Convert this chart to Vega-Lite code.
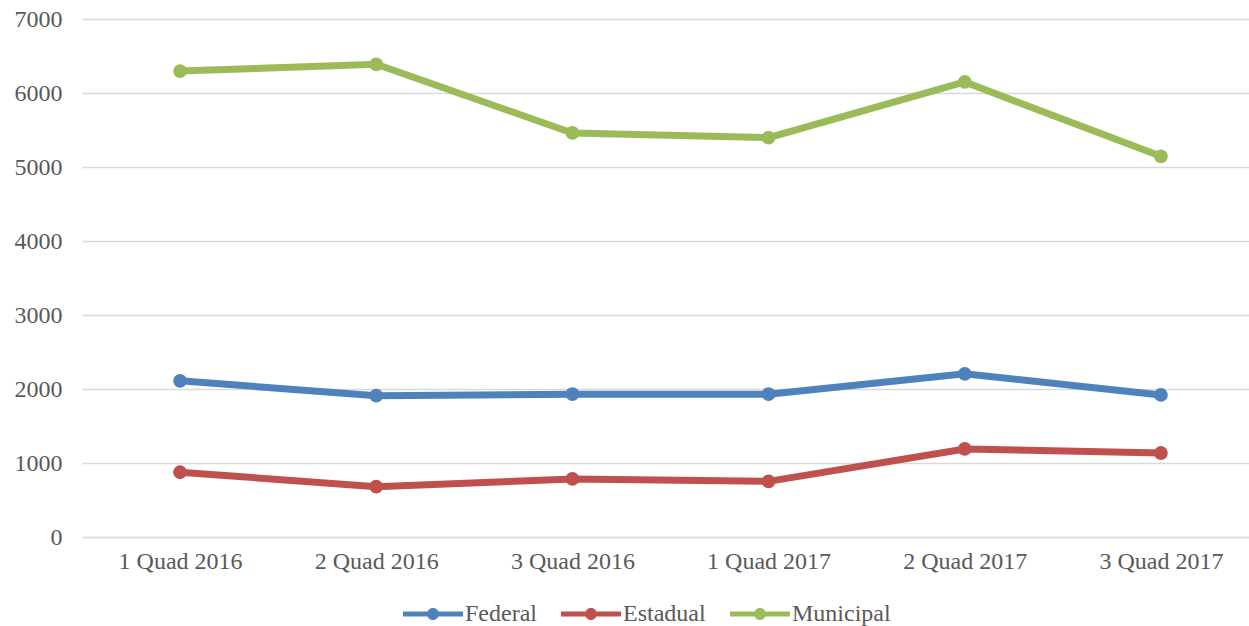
{
  "$schema": "https://vega.github.io/schema/vega-lite/v6.json",
  "width": 1177,
  "height": 518,
  "autosize": {"type": "none"},
  "padding": {"left": 82, "top": 19, "right": 0, "bottom": 89},
  "background": "white",
  "config": {"view": {"stroke": null}},
  "data": {
    "values": [
      {"period": "1 Quad 2016", "series": "Federal", "value": 2110},
      {"period": "2 Quad 2016", "series": "Federal", "value": 1910},
      {"period": "3 Quad 2016", "series": "Federal", "value": 1930},
      {"period": "1 Quad 2017", "series": "Federal", "value": 1930},
      {"period": "2 Quad 2017", "series": "Federal", "value": 2205},
      {"period": "3 Quad 2017", "series": "Federal", "value": 1920},
      {"period": "1 Quad 2016", "series": "Estadual", "value": 875},
      {"period": "2 Quad 2016", "series": "Estadual", "value": 680},
      {"period": "3 Quad 2016", "series": "Estadual", "value": 785},
      {"period": "1 Quad 2017", "series": "Estadual", "value": 752},
      {"period": "2 Quad 2017", "series": "Estadual", "value": 1190},
      {"period": "3 Quad 2017", "series": "Estadual", "value": 1135},
      {"period": "1 Quad 2016", "series": "Municipal", "value": 6297},
      {"period": "2 Quad 2016", "series": "Municipal", "value": 6388},
      {"period": "3 Quad 2016", "series": "Municipal", "value": 5460},
      {"period": "1 Quad 2017", "series": "Municipal", "value": 5397},
      {"period": "2 Quad 2017", "series": "Municipal", "value": 6149},
      {"period": "3 Quad 2017", "series": "Municipal", "value": 5145}
    ]
  },
  "encoding": {
    "x": {
      "field": "period",
      "type": "ordinal",
      "sort": ["1 Quad 2016", "2 Quad 2016", "3 Quad 2016", "1 Quad 2017", "2 Quad 2017", "3 Quad 2017"],
      "scale": {"type": "point", "padding": 0.5},
      "axis": {
        "title": null,
        "labelAngle": 0,
        "labelFont": "Liberation Serif",
        "labelFontSize": 24,
        "labelColor": "#595959",
        "labelPadding": 12,
        "ticks": false,
        "grid": false,
        "domain": true,
        "domainColor": "#d9d9d9",
        "domainWidth": 1.3
      }
    },
    "y": {
      "field": "value",
      "type": "quantitative",
      "scale": {"domain": [0, 7000], "nice": false},
      "axis": {
        "title": null,
        "values": [0, 1000, 2000, 3000, 4000, 5000, 6000, 7000],
        "format": "d",
        "labelFont": "Liberation Serif",
        "labelFontSize": 24,
        "labelColor": "#595959",
        "labelPadding": 20,
        "ticks": false,
        "domain": false,
        "grid": true,
        "gridColor": "#d9d9d9",
        "gridWidth": 1.3
      }
    },
    "color": {
      "field": "series",
      "type": "nominal",
      "scale": {
        "domain": ["Federal", "Estadual", "Municipal"],
        "range": ["#4F81BD", "#C0504D", "#9BBB59"]
      },
      "legend": {
        "title": null,
        "orient": "none",
        "legendX": 336,
        "legendY": 580,
        "direction": "horizontal",
        "labelFont": "Liberation Serif",
        "labelFontSize": 24,
        "labelColor": "#595959",
        "symbolType": "M-2,-0.17L2,-0.17L2,0.17L-2,0.17Z M0.4,0 A0.4,0.4 0 1,1 -0.4,0 A0.4,0.4 0 1,1 0.4,0Z",
        "symbolSize": 900,
        "symbolStrokeWidth": 0,
        "labelOffset": 17,
        "columnPadding": 24
      }
    }
  },
  "layer": [
    {"mark": {"type": "line", "strokeWidth": 7}},
    {"mark": {"type": "point", "filled": true, "size": 190, "opacity": 1}}
  ]
}
